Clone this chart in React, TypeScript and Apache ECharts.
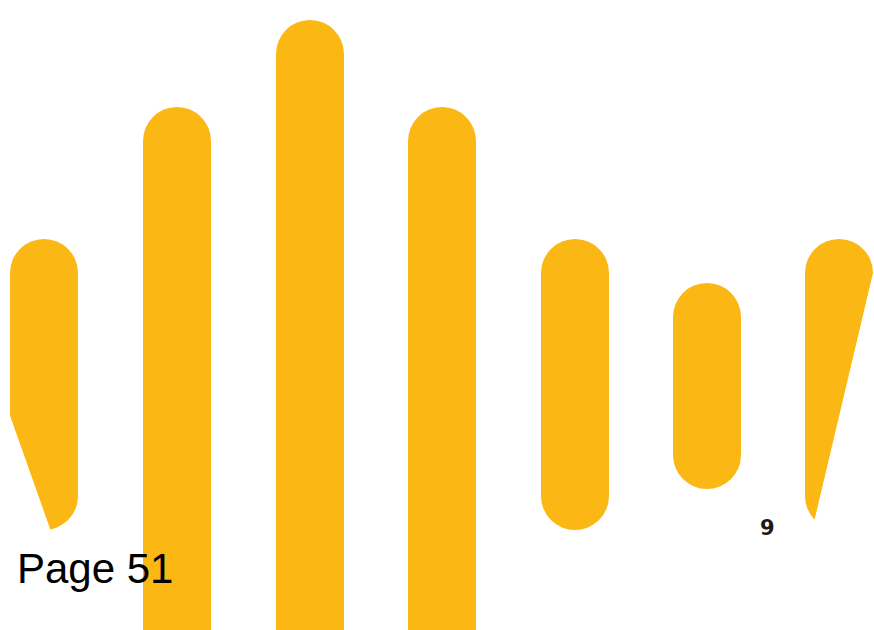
import React, { useEffect, useRef } from "react";
import * as echarts from "echarts";

// Bar centres along the horizontal scale (0..874) and extents on the vertical scale (0..630, 0 = bottom)
const barCenters = [44, 177, 310, 442, 575, 707, 839];
const barTops = [391, 523, 610, 523, 391, 347, 391];
const barBottoms = [100, -60, -60, -60, 100, 141, 100];
// Diagonal cut lines on the outer bars: [x1, y1, x2, y2] in the same units, or null
const barCuts: (number[] | null)[] = [
  [10, 213, 50, 100],
  null,
  null,
  null,
  null,
  null,
  [873, 355, 815, 110],
];
const barWidthUnits = 68;
const pageLabel = "Page 51";
const pageNumber = "9";

const BAR_COLOR = "#FBB713";

export default function App() {
  const ref = useRef<HTMLDivElement>(null);

  useEffect(() => {
    document.body.style.margin = "0";
    if (!ref.current) return;
    const chart = echarts.init(ref.current, undefined, { renderer: "svg" });

    const data = barCenters.map((c, i) => [c, barTops[i], barBottoms[i]]);

    chart.setOption({
      animation: false,
      backgroundColor: "#ffffff",
      grid: { left: 0, right: 0, top: 0, bottom: 0 },
      xAxis: { type: "value", min: 0, max: 874, show: false },
      yAxis: { type: "value", min: 0, max: 630, show: false },
      series: [
        {
          type: "custom",
          clip: false,
          data,
          renderItem: (params: any, api: any) => {
            const i = params.dataIndex;
            const cx = api.value(0);
            const top = api.value(1);
            const bottom = api.value(2);
            const p1 = api.coord([cx, top]);
            const p2 = api.coord([cx, bottom]);
            const w = api.size([barWidthUnits, 0])[0];
            const children: any[] = [
              {
                type: "rect",
                shape: {
                  x: p1[0] - w / 2,
                  y: p1[1],
                  width: w,
                  height: p2[1] - p1[1],
                  r: w / 2,
                },
                style: { fill: BAR_COLOR },
              },
            ];
            const cut = barCuts[i];
            if (cut) {
              const a = api.coord([cut[0], cut[1]]);
              const b = api.coord([cut[2], cut[3]]);
              const dx = b[0] - a[0];
              const dy = b[1] - a[1];
              const len = Math.sqrt(dx * dx + dy * dy);
              let nx = -dy / len;
              let ny = dx / len;
              const ccx = p1[0];
              const ccy = (p1[1] + p2[1]) / 2;
              if (nx * (ccx - a[0]) + ny * (ccy - a[1]) > 0) {
                nx = -nx;
                ny = -ny;
              }
              const A = [a[0] - dx * 0.1, a[1] - dy * 0.1];
              const B = [b[0] + dx * 0.15, b[1] + dy * 0.15];
              const L = 60;
              children.push({
                type: "polygon",
                shape: {
                  points: [A, B, [B[0] + nx * L, B[1] + ny * L], [A[0] + nx * L, A[1] + ny * L]],
                },
                style: { fill: "#ffffff", stroke: "#ffffff", lineWidth: 1 },
              });
            }
            return { type: "group", children };
          },
        },
      ],
      graphic: [
        {
          type: "text",
          z: 100,
          left: 17,
          top: 547,
          style: {
            text: pageLabel,
            fill: "#000000",
            font: "42px 'Liberation Sans', Arial, sans-serif",
          },
        },
        {
          type: "text",
          z: 100,
          left: 760,
          top: 517,
          style: {
            text: pageNumber,
            fill: "#1a1a1a",
            font: "bold 21px 'DejaVu Sans', sans-serif",
          },
        },
      ],
    });

    return () => chart.dispose();
  }, []);

  return <div ref={ref} style={{ width: 874, height: 630 }} />;
}
